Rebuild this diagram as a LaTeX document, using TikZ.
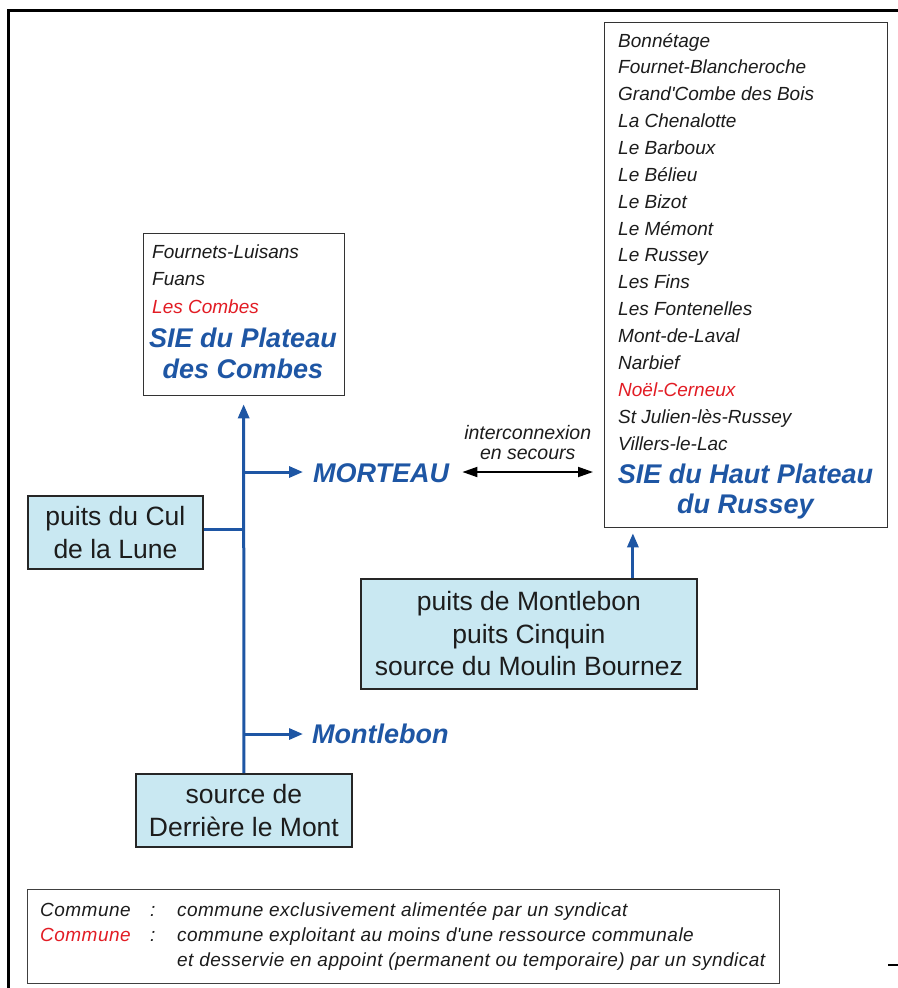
\documentclass[tikz,border=0pt]{standalone}
\usepackage{fontspec}
\setmainfont{Liberation Sans}
\newfontfamily\legfont[LetterSpace=2.5]{Liberation Sans}
\usetikzlibrary{arrows.meta}
\definecolor{sieblue}{RGB}{30,86,164}
\definecolor{boxfill}{RGB}{201,232,242}
\definecolor{redc}{RGB}{226,28,36}
\definecolor{txt}{RGB}{28,28,28}
\begin{document}
\begin{tikzpicture}[x=1pt,y=-1pt,
  srcbox/.style={draw=black!85, line width=1.8pt, fill=boxfill, inner sep=0pt, anchor=north west, align=center, text=txt, font=\fontsize{26.5}{32.5}\selectfont},
  listbox/.style={draw=black!80, line width=1.3pt, fill=white, inner sep=0pt, anchor=north west},
  item/.style={anchor=base west, inner sep=0pt, text=txt, font=\fontsize{19}{27}\selectfont\itshape},
  reditem/.style={item, text=redc},
  sie/.style={anchor=base, inner sep=0pt, text=sieblue, font=\fontsize{27}{31}\selectfont\bfseries\itshape},
  town/.style={anchor=base west, inner sep=0pt, text=sieblue, font=\fontsize{27}{31}\selectfont\bfseries\itshape},
  blueline/.style={draw=sieblue, line width=3pt},
  flow/.style={blueline, -{Triangle[length=14pt,width=11pt]}},
  biarrow/.style={draw=black, line width=1.8pt, {Triangle[length=15pt,width=10pt]}-{Triangle[length=15pt,width=10pt]}},
  leg/.style={anchor=base west, inner sep=0pt, text=txt, font=\fontsize{19}{25}\legfont\itshape},
  legred/.style={leg, text=redc}]
\useasboundingbox (0,0) rectangle (897,988);
% outer frame
\draw[line width=3pt] (8,990) -- (8,10) -- (899,10);
\draw[line width=1.5pt] (888,965) -- (899,965);

% SIE du Plateau des Combes
\node[listbox, minimum width=201pt, minimum height=162pt] (combes) at (142.5,233) {};
\node[item] (c1) at (152,258) {Fournets-Luisans};
\node[item] (c2) at (152,285.5) {Fuans};
\node[reditem] (c3) at (152,313) {Les Combes};
\node[sie] (c4) at (243,347) {SIE du Plateau};
\node[sie] (c5) at (243,378) {des Combes};

% SIE du Haut Plateau du Russey
\node[listbox, minimum width=283pt, minimum height=505pt] (russey) at (604,22) {};
\node[item] (r0) at (618,47) {Bonnétage};
\node[item] (r1) at (618,73.9) {Fournet-Blancheroche};
\node[item] (r2) at (618,100.7) {Grand\textquotesingle Combe des Bois};
\node[item] (r3) at (618,127.6) {La Chenalotte};
\node[item] (r4) at (618,154.5) {Le Barboux};
\node[item] (r5) at (618,181.3) {Le Bélieu};
\node[item] (r6) at (618,208.2) {Le Bizot};
\node[item] (r7) at (618,235.1) {Le Mémont};
\node[item] (r8) at (618,261.9) {Le Russey};
\node[item] (r9) at (618,288.8) {Les Fins};
\node[item] (r10) at (618,315.7) {Les Fontenelles};
\node[item] (r11) at (618,342.5) {Mont-de-Laval};
\node[item] (r12) at (618,369.4) {Narbief};
\node[reditem] (r13) at (618,396.3) {Noël-Cerneux};
\node[item] (r14) at (618,423.1) {St Julien-lès-Russey};
\node[item] (r15) at (618,450) {Villers-le-Lac};
\node[sie] (r16) at (745.5,483) {SIE du Haut Plateau};
\node[sie] (r17) at (745.5,513) {du Russey};

% resource boxes
\node[srcbox, minimum width=175pt, minimum height=73pt] (cul) at (27,495) {puits du Cul\\de la Lune};
\node[srcbox, minimum width=336pt, minimum height=110pt] (mlb) at (360,578) {puits de Montlebon\\puits Cinquin\\source du Moulin Bournez};
\node[srcbox, minimum width=216pt, minimum height=73pt] (src) at (135,773) {source de\\Derrière le Mont};

% towns
\node[town] (morteau) at (313,482) {MORTEAU};
\node[town] (montlebon) at (312,743.5) {Montlebon};

% junctions on the trunk
\coordinate (jm) at (243,472);
\coordinate (jc) at (243,529);
\coordinate (jb) at (243,734);

% connectors
\draw[flow] (src.north) -- ([yshift=-8pt]combes.south);
\draw[blueline] (cul.east |- jc) -- (jc);
\draw[flow] (jm) -- ([xshift=-10pt]morteau.west |- jm);
\draw[flow] (jb) -- ([xshift=-9pt]montlebon.west |- jb);
\draw[flow] ([xshift=104pt]mlb.north) -- ([xshift=104pt,yshift=-5pt]mlb.north |- russey.south);
\draw[biarrow] ([xshift=13pt]morteau.east |- jm) -- ([xshift=-11pt]russey.west |- jm)
  node[midway, above=11pt, inner sep=0pt, align=center, text=txt, font=\fontsize{19.5}{20}\selectfont\itshape] (inter) {interconnexion\\en secours};

% legend
\node[draw=black!75, line width=1.2pt, fill=white, inner sep=0pt, anchor=north west, minimum width=752pt, minimum height=94pt] (legend) at (27,889) {};
\node[leg] (l1) at (40,916) {Commune};
\node[leg] (l2) at (150,916) {:};
\node[leg] (l3) at (177,916) {commune exclusivement alimentée par un syndicat};
\node[legred] (l4) at (40,941) {Commune};
\node[leg] (l5) at (150,941) {:};
\node[leg] (l6) at (177,941) {commune exploitant au moins d\textquotesingle une ressource communale};
\node[leg] (l7) at (177,966) {et desservie en appoint (permanent ou temporaire) par un syndicat};
\end{tikzpicture}
\end{document}
